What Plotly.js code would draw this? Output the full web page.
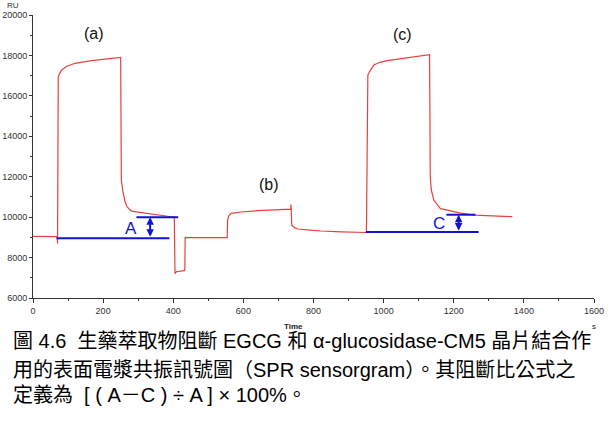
<!DOCTYPE html>
<html><head><meta charset="utf-8">
<script src="https://cdn.plot.ly/plotly-3.0.1.min.js"></script>
<style>html,body{margin:0;padding:0;background:#fff}#c{width:612px;height:432px}</style>
</head><body><div id="c"></div>
<script>
// SPR sensorgram (RU vs time, s)
const timeS = [0, 40, 69, 70, 70.5, 72, 76, 82, 95, 120, 167, 210, 249, 250, 252, 256, 262, 267, 274, 281, 300, 318, 360, 394, 403, 404, 405, 409, 420, 431, 433, 434, 440, 480, 520, 554, 555, 558, 565, 594, 640, 690, 735, 736, 737, 738, 746, 755, 790, 821, 880, 949, 951, 955, 960, 972, 990, 1010, 1060, 1100, 1131, 1133, 1136, 1143, 1153, 1162, 1182, 1219, 1259, 1300, 1367];
const responseRU = [9050, 9050, 9040, 8700, 16850, 16950, 17100, 17280, 17450, 17610, 17740, 17820, 17890, 17900, 11840, 11300, 10800, 10550, 10400, 10300, 10250, 10200, 10080, 10020, 10000, 7220, 7200, 7300, 7330, 7350, 7400, 9000, 8990, 9000, 9000, 8990, 9860, 10050, 10190, 10255, 10320, 10370, 10400, 10620, 10300, 9600, 9480, 9413, 9360, 9314, 9270, 9240, 9240, 17030, 17200, 17526, 17660, 17740, 17870, 17960, 18036, 12000, 11343, 10848, 10600, 10420, 10350, 10200, 10100, 10060, 10022];

// Reference level lines (A and C)
const lineA_base_x = [67, 389], lineA_base_y = [8950, 8950];
const lineA_top_x = [295, 414], lineA_top_y = [9990, 9990];
const lineC_base_x = [949, 1271], lineC_base_y = [9265, 9265];
const lineC_top_x = [1179, 1262], lineC_top_y = [10120, 10120];
const arrowA = {x: 334, y0: 8950, y1: 9990};
const arrowC = {x: 1214, y0: 9265, y1: 10120};

// Labels
const peakLabels = ['(a)', '(b)', '(c)'];
const peakLabelX = [173, 672, 1053];
const peakLabelY = [19100, 11600, 19050];
const levelLabels = ['A', 'C'];
const levelLabelX = [280, 1157];
const levelLabelY = [9450, 9700];

const captionLines = [
  '圖 4.6  生藥萃取物阻斷 EGCG 和 α-glucosidase-CM5 晶片結合作',
  '用的表面電漿共振訊號圖（SPR sensorgram）。其阻斷比公式之',
  '定義為  [ ( A－C ) ÷ A ] × 100%。'
];

const red = '#e8413c', blue = '#1212d6';
const traces = [
  {x: timeS, y: responseRU, mode: 'lines', line: {color: red, width: 1.2}, hoverinfo: 'skip'},
  {x: lineA_base_x, y: lineA_base_y, mode: 'lines', line: {color: blue, width: 2}},
  {x: lineA_top_x, y: lineA_top_y, mode: 'lines', line: {color: blue, width: 2}},
  {x: lineC_base_x, y: lineC_base_y, mode: 'lines', line: {color: blue, width: 2}},
  {x: lineC_top_x, y: lineC_top_y, mode: 'lines', line: {color: blue, width: 2}}
];

const ann = [];
[arrowA, arrowC].forEach(a => {
  ann.push({x: a.x, y: a.y1, ax: a.x, ay: a.y0, xref: 'x', yref: 'y', axref: 'x', ayref: 'y',
    showarrow: true, arrowhead: 2, arrowside: 'end+start', arrowsize: 0.75, arrowwidth: 2, arrowcolor: blue, text: ''});
});
peakLabels.forEach((t, i) => ann.push({x: peakLabelX[i], y: peakLabelY[i], xref: 'x', yref: 'y', text: t, showarrow: false,
  font: {family: 'Liberation Sans, Arial, sans-serif', size: 16, color: '#111'}}));
levelLabels.forEach((t, i) => ann.push({x: levelLabelX[i], y: levelLabelY[i], xref: 'x', yref: 'y', text: t, showarrow: false,
  font: {family: 'Liberation Sans, Arial, sans-serif', size: 17, color: blue}}));
ann.push({xref: 'paper', yref: 'paper', x: -0.05, y: 1.035, xanchor: 'left', yanchor: 'middle', text: 'RU', showarrow: false,
  font: {family: 'Liberation Sans, Arial', size: 8, color: '#333'}});
ann.push({xref: 'paper', yref: 'paper', x: 0.465, y: -0.102, xanchor: 'center', yanchor: 'middle', text: '<b>Time</b>', showarrow: false,
  font: {family: 'Liberation Sans, Arial', size: 8, color: '#222'}});
ann.push({xref: 'paper', yref: 'paper', x: 1.0, y: -0.102, xanchor: 'center', yanchor: 'middle', text: 's', showarrow: false,
  font: {family: 'Liberation Sans, Arial', size: 8, color: '#222'}});
const capY = [-0.152, -0.254, -0.343];
captionLines.forEach((t, i) => ann.push({xref: 'paper', yref: 'paper', x: -0.04, y: capY[i], xanchor: 'left', yanchor: 'middle',
  text: t, showarrow: false, font: {family: 'Liberation Sans, Arial, Noto Sans CJK TC', size: 20, color: '#000'}}));

const axisFont = {family: 'Liberation Sans, Arial, sans-serif', size: 9, color: '#333'};
const layout = {
  width: 612, height: 432,
  margin: {l: 33, r: 18, t: 15, b: 134},
  paper_bgcolor: '#fff', plot_bgcolor: '#fff',
  showlegend: false,
  xaxis: {range: [0, 1600], dtick: 200, tick0: 0, tickformat: 'd', showgrid: false, zeroline: false, showline: true, linecolor: '#333', linewidth: 1,
    ticks: 'outside', ticklen: 4, tickcolor: '#333', tickfont: axisFont,
    minor: {dtick: 100, ticks: 'outside', ticklen: 2, tickcolor: '#333', showgrid: false}},
  yaxis: {range: [6000, 20000], dtick: 2000, tick0: 6000, tickformat: 'd', showgrid: false, zeroline: false, showline: true, linecolor: '#333', linewidth: 1,
    ticks: 'outside', ticklen: 3, tickcolor: '#333', tickfont: axisFont,
    minor: {dtick: 1000, ticks: 'outside', ticklen: 2, tickcolor: '#333', showgrid: false}},
  annotations: ann
};
Plotly.newPlot('c', traces, layout, {staticPlot: true, displayModeBar: false});
</script></body></html>
